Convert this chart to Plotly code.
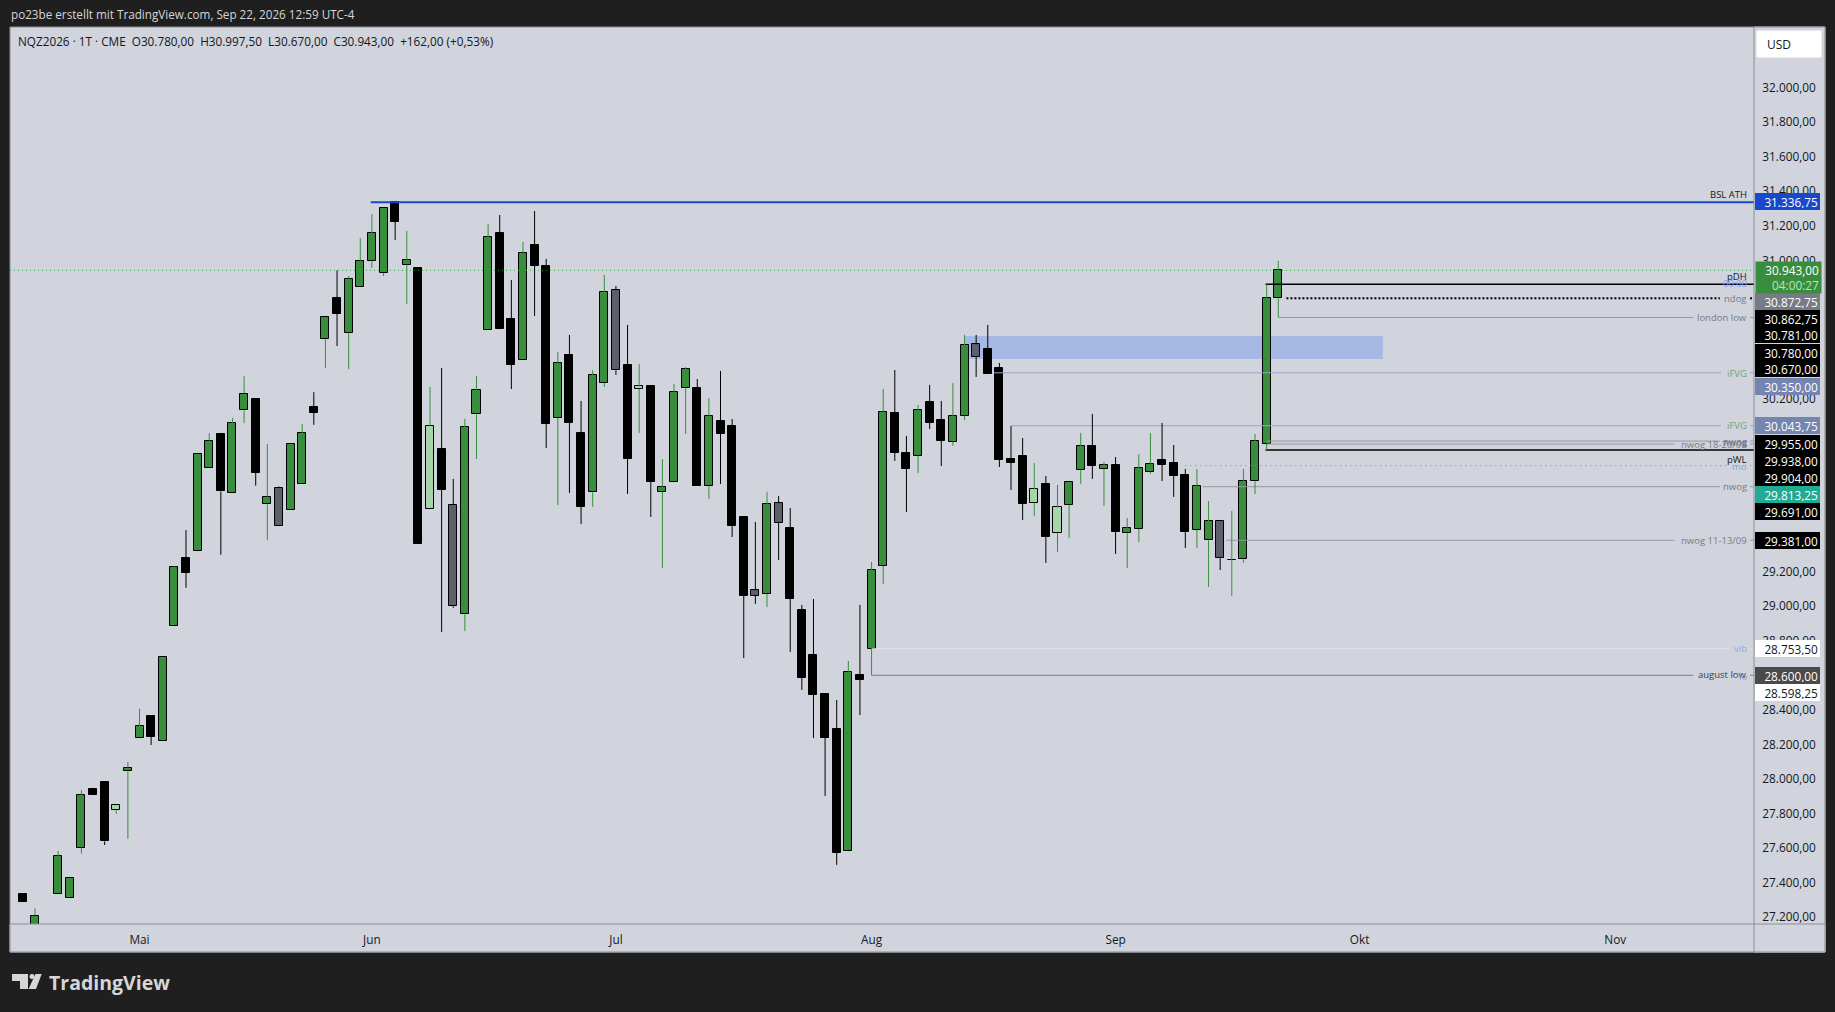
# -*- coding: utf-8 -*-
import plotly.graph_objects as go

# daily bars, the session at index 2 has no bar on the chart
bar_index = [0, 1] + list(range(3, 109))

opens = [27334, 27150, 27337, 27314, 27603, 27941, 27980, 27822, 28044, 28235,
         28363, 28222, 28886, 29276, 29317, 29802, 29996, 29656, 30132, 30198,
         29589, 29682, 29559, 29704, 30150, 30544, 30781, 30579, 30845, 30995,
         30926, 31337, 30976, 30955, 29560, 29908, 29584, 28953, 30110, 30596,
         31157, 30660, 30422, 31088, 30966, 30090, 30451, 30000, 29659, 30290,
         30827, 30394, 30258, 30272, 29662, 29717, 30260, 30260, 29694, 30070,
         30041, 29514, 29092, 29069, 29595, 29451, 28978, 28716, 28492, 28288,
         27585, 28602, 28754, 29234, 30116, 29885, 29871, 30180, 30075, 29952,
         30102, 30515, 30486, 30376, 29851, 29867, 29599, 29705, 29425, 29587,
         29790, 29925, 29795, 29815, 29422, 29448, 29778, 29846, 29827, 29757,
         29442, 29381, 29491, 29265, 29271, 29722, 29938, 30780]
highs = [27334, 27251, 27583, 27430, 27935, 27941, 27980, 27847, 28099, 28406,
         28363, 28703, 29231, 29440, 29883, 30001, 29996, 30089, 30331, 30198,
         29938, 29692, 29941, 30054, 30238, 30671, 30943, 30910, 31130, 31269,
         31302, 31336.75, 31171, 30955, 30268, 30378, 29736, 30083, 30332, 31211,
         31263, 30887, 31107, 31286, 31009, 30470, 30569, 30187, 30365, 30916,
         30852, 30627, 30401, 30272, 29851, 30285, 30384, 30314, 30204, 30361,
         30083, 29514, 29487, 29661, 29637, 29568, 29007, 29041, 28492, 28457,
         28683, 29007, 29256, 30256, 30366, 29985, 30164, 30280, 30187, 30291,
         30569, 30569, 30627, 30407, 30042, 29973, 29828, 29753, 29701, 29717,
         30002, 30112, 29834, 29863, 29510, 29880, 30002, 30060, 29932, 29794,
         29794, 29608, 29499, 29551, 29794, 29996, 30862.75, 30997.5]
lows = [27291, 27150, 27337, 27314, 27568, 27910, 27618, 27799, 27654, 28235,
        28197, 28222, 28886, 29106, 29317, 29802, 29297, 29656, 30059, 29697,
        29382, 29466, 29559, 29704, 30049, 30379, 30505, 30372, 30845, 30956,
        30910, 31118, 30748, 29362, 29560, 28851, 28990, 28856, 29851, 30596,
        30605, 30256, 30422, 30679, 29915, 29585, 29655, 29475, 29574, 30268,
        30338, 29649, 30002, 29516, 29221, 29717, 29996, 29697, 29620, 29707,
        29400, 28700, 29013, 28995, 29267, 28735, 28515, 28237, 27902, 27503,
        27585, 28370, 28600, 29128, 29840, 29545, 29770, 30025, 29811, 29927,
        30077, 30326, 30345, 29805, 29672, 29499, 29522, 29250, 29314, 29394,
        29707, 29736, 29580, 29302, 29221, 29371, 29765, 29724, 29632, 29337,
        29337, 29111, 29209, 29059, 29250, 29649, 29904, 30670]
closes = [27291, 27210, 27553, 27430, 27905, 27910, 27639, 27847, 28066, 28305,
          28243, 28703, 29224, 29194, 29883, 29958, 29664, 30057, 30230, 29772,
          29634, 29466, 29941, 29999, 30120, 30671, 30692, 30895, 30995, 31157,
          31302, 31224, 31001, 29362, 30041, 29674, 28999, 30035, 30249, 31134,
          30605, 30397, 31042, 30970, 30056, 30405, 30062, 29576, 30336, 30816,
          30365, 29853, 30272, 29720, 29688, 30237, 30370, 29697, 30098, 29998,
          29466, 29061, 29061, 29589, 29480, 29043, 28586, 28488, 28239, 27574,
          28618, 28575, 29208, 30122, 29888, 29795, 30133, 30062, 29957, 30098,
          30509, 30443, 30345, 29847, 29830, 29593, 29676, 29402, 29572, 29717,
          29925, 29813, 29815, 29431, 29451, 29798, 29821, 29819, 29755, 29431,
          29694, 29491, 29277, 29265, 29722, 29954, 30781, 30943]

# bars the chart paints in the other two colours
gray_bars = [22, 37, 51, 63, 65, 82, 103]
light_bars = [8, 35, 53, 87, 89]

month_ticks = [10, 30, 51, 73, 94, 115, 137]
month_labels = ["Mai", "Jun", "Jul", "Aug", "Sep", "Okt", "Nov"]

# scale ticks, the ones listed as covered sit fully behind the price boxes
covered_ticks = [30800, 30600, 30400, 30000, 29800, 29600, 28600]
price_ticks = [p for p in range(27200, 32001, 200) if p not in covered_ticks]
price_tick_labels = [f"{p:,}".replace(",", ".") + ",00" for p in price_ticks]

# drawn levels
level_names = ["BSL ATH", "pDH", "ndog", "london low", "iFVG", "iFVG", "nwog", "nwog 18-20/09",
               "pWL", "mo", "nwog", "nwog 11-13/09", "vib", "august low"]
level_prices = [31336.75, 30862.75, 30781, 30670, 30350, 30043.75, 29955, 29938,
                29904, 29813.25, 29691, 29381, 28753.5, 28600]
level_starts = [29.9, 106.9, 108.7, 108, 83.5, 85, 107, 107, 106.9, 100, 101.5, 103.5, 73, 73]
level_ends = [148.94, 148.94, 146, 143.7, 146.1, 146.1, 146, 142.1, 148.94, 146.9, 146, 142.1, 146.9, 143.7]
level_colors = ["#1848cc", "#000000", "#000000", "#9598a1", "#9ba5c6", "#9ba5c6", "#9598a1", "#9598a1",
                "#000000", "#4f9c93", "#9598a1", "#9598a1", "#e2e4ea", "#787b86"]
level_widths = [2, 1.5, 2, 1, 1, 1, 1, 1, 1.5, 1, 1, 1, 1, 1]
level_dash = ["solid", "solid", "2px,2px", "solid", "solid", "solid", "solid", "solid",
              "solid", "1px,4px", "solid", "solid", "solid", "solid"]
level_text_colors = ["#131722", "#131722", "#787b86", "#787b86", "#6fa283", "#6fa283", "#787b86", "#787b86",
                     "#131722", "#7f9df0", "#787b86", "#787b86", "#8fa8ee", "#3a3d45"]

# fvg box
box_bars = (81, 117)
box_prices = (30430, 30563)

# price scale labels: value, colour, text colour, stacked position on the scale
scale_values = ["31.336,75", "30.872,75", "30.862,75", "30.781,00", "30.780,00", "30.670,00", "30.350,00",
                "30.043,75", "29.955,00", "29.938,00", "29.904,00", "29.813,25", "29.691,00", "29.381,00",
                "28.753,50", "28.600,00", "28.598,25"]
scale_colors = ["#1848cc", "#787b86", "#000000", "#000000", "#000000", "#000000", "#7385b0",
                "#7385b0", "#000000", "#000000", "#000000", "#22ab94", "#000000", "#000000",
                "#ffffff", "#4a4a4a", "#ffffff"]
scale_text = ["#ffffff"] * 14 + ["#131722", "#ffffff", "#131722"]
scale_y = [202, 301, 318, 335, 352, 368.5, 386, 426, 443, 460, 477, 494, 511, 540, 648, 675, 692]

# page geometry in pixels
W, H = 1835, 1012
L, R, T, B = 10, 1754, 27, 924
PANEL_R, PANEL_B = 1825, 952
BG = "#d1d4dc"
DARK = "#1f1f1f"
FRAME = "#8b8e96"
FONT = "Open Sans"


def px(x):
    return (x - L) / (R - L)


def py(y):
    return 1 - (y - T) / (B - T)


def pane_rect(x0, y0, x1, y1, color, line=None):
    return dict(type="rect", xref="paper", yref="paper", layer="below",
                x0=px(x0), x1=px(x1), y0=py(y0), y1=py(y1), fillcolor=color,
                line=dict(color=line or color, width=1))


def page_path(points, color):
    # closed polygon given in page pixels
    d = "M " + " L ".join(f"{px(a):.5f},{py(b):.5f}" for a, b in points) + " Z"
    return dict(type="path", xref="paper", yref="paper", path=d, fillcolor=color, line=dict(width=0))


def text(x, y, s, size=11, color="#131722", anchor="left", family=FONT):
    return dict(xref="paper", yref="paper", x=px(x), y=py(y), text=s, showarrow=False,
                xanchor=anchor, yanchor="middle", align=anchor,
                font=dict(family=family, size=size, color=color))


GREEN = "#388e3c"
body_colors = []
for i, o, c in zip(bar_index, opens, closes):
    if i in gray_bars:
        body_colors.append("#5d606b")
    elif i in light_bars:
        body_colors.append("#a5d6a7")
    elif c >= o:
        body_colors.append(GREEN)
    else:
        body_colors.append("#000000")

# wicks are split so they never cross a body
wx_g, wy_g, wx_b, wy_b = [], [], [], []
for i, o, h, l, c in zip(bar_index, opens, highs, lows, closes):
    xs = [i, i, None, i, i, None]
    ys = [h, max(o, c), None, min(o, c), l, None]
    if c >= o:
        wx_g += xs
        wy_g += ys
    else:
        wx_b += xs
        wy_b += ys

fig = go.Figure()

# last price line
fig.add_trace(go.Scatter(x=[-1.145, 148.94], y=[closes[-1], closes[-1]], mode="lines",
                         line=dict(color="#2e9e3a", width=1, dash="1px,3px"), hoverinfo="skip"))

for name, p, a, b, col, wid, dash in zip(level_names, level_prices, level_starts, level_ends,
                                         level_colors, level_widths, level_dash):
    xs = [a, b]
    ys = [p, p]
    if b < 148.9:
        xs += [None, 148.6, 148.94]
        ys += [None, p, p]
    fig.add_trace(go.Scatter(x=xs, y=ys, mode="lines", name=name, hoverinfo="skip",
                             line=dict(color=col, width=wid, dash=dash)))

fig.add_trace(go.Bar(x=bar_index,
                     y=[abs(c - o) for o, c in zip(opens, closes)],
                     base=[min(o, c) for o, c in zip(opens, closes)],
                     width=0.69,
                     marker=dict(color=body_colors, line=dict(color="#000000", width=1))))
fig.add_trace(go.Scatter(x=wx_g, y=wy_g, mode="lines", line=dict(color=GREEN, width=1), hoverinfo="skip"))
fig.add_trace(go.Scatter(x=wx_b, y=wy_b, mode="lines", line=dict(color="#000000", width=1), hoverinfo="skip"))

shapes = [
    pane_rect(R, T, PANEL_R, PANEL_B, BG),
    pane_rect(L, B, PANEL_R, PANEL_B, BG),
    dict(type="rect", xref="x", yref="y", layer="below", x0=box_bars[0], x1=box_bars[1],
         y0=box_prices[0], y1=box_prices[1], fillcolor="#a6b9e4", line=dict(width=0)),
    dict(type="rect", xref="paper", yref="paper", x0=px(L), x1=px(PANEL_R), y0=py(T), y1=py(PANEL_B),
         line=dict(color=FRAME, width=1)),
    dict(type="line", xref="paper", yref="paper", x0=px(R), x1=px(R), y0=py(T), y1=py(PANEL_B),
         line=dict(color=FRAME, width=1)),
    dict(type="line", xref="paper", yref="paper", x0=px(L), x1=px(PANEL_R), y0=py(B), y1=py(B),
         line=dict(color=FRAME, width=1)),
    # USD button
    pane_rect(1757, 31, 1821, 57, "#ffffff"),
    # logo mark
    page_path([(12, 974), (28, 974), (28, 989), (20, 989), (20, 981), (12, 981)], "#d6d6d6"),
    page_path([(35.5, 974), (41.7, 974), (36, 989), (28.5, 989)], "#d6d6d6"),
    dict(type="circle", xref="paper", yref="paper", fillcolor="#d6d6d6", line=dict(width=0),
         x0=px(29.5), x1=px(34.5), y0=py(974), y1=py(979)),
]

annotations = [
    text(9, 14.5, "po23be erstellt mit TradingView.com, Sep 22, 2026 12:59 UTC-4", size=11.7, color="#d6d6d6"),
    text(16, 41.5, "NQZ2026 · 1T · CME&nbsp;&nbsp;O30.780,00&nbsp;&nbsp;H30.997,50&nbsp;&nbsp;L30.670,00"
                   "&nbsp;&nbsp;C30.943,00&nbsp;&nbsp;+162,00 (+0,53%)", size=11.75),
    text(1765, 44.5, "USD", size=12),
    text(47, 982, "<b>TradingView</b>", size=19.5, color="#d6d6d6"),
]

# level captions sit at the end of each line
caption_y = [194.5, 276.5, 298.5, 317.5, 373, 426, 441.5, 444, 459, 466, 486, 540, 648, 674.5]
for name, y, col in zip(level_names, caption_y, level_text_colors):
    annotations.append(text(1748.5, y, name, size=9.5, color=col, anchor="right"))
annotations.append(text(1748.5, 283, "00:00", size=9.5, color="#7f9df0", anchor="right"))
annotations.append(text(1748.5, 442, "nwog", size=9.5, color="#787b86", anchor="right"))
annotations.append(text(1748.5, 676, "lo", size=9.5, color="#7f9df0", anchor="right"))

# price scale boxes
for val, col, tcol, y in zip(scale_values, scale_colors, scale_text, scale_y):
    annotations.append(dict(xref="paper", yref="paper", x=px(1754.5), y=py(y), text=val, showarrow=False,
                            xanchor="left", yanchor="middle", width=61, height=13, align="right",
                            bgcolor=col, borderpad=2, borderwidth=0,
                            font=dict(family=FONT, size=11.8, color=tcol)))
# current price with countdown
annotations.append(dict(xref="paper", yref="paper", x=px(1754.5), y=py(277.5), showarrow=False,
                        text="30.943,00<br><span style='color:#bfe3c1'>04:00:27</span>",
                        xanchor="left", yanchor="middle", width=61, height=27, align="right",
                        bgcolor=GREEN, borderpad=2, font=dict(family=FONT, size=11.8, color="#ffffff")))

fig.update_layout(width=W, height=H, autosize=False, showlegend=False, hovermode=False,
                  paper_bgcolor=DARK, plot_bgcolor=BG, bargap=0, barmode="overlay",
                  margin=dict(l=L, r=W - R, t=T, b=H - B, pad=0, autoexpand=False),
                  font=dict(family=FONT, color="#131722"),
                  shapes=shapes, annotations=annotations)
fig.update_xaxes(range=[-1.145, 148.94], tickvals=month_ticks, ticktext=month_labels, showgrid=False,
                 zeroline=False, ticks="outside", ticklen=5, tickcolor="rgba(0,0,0,0)",
                 tickfont=dict(family=FONT, size=11.8, color="#131722"))
fig.update_yaxes(range=[27161, 32350.7], side="right", tickvals=price_ticks, ticktext=price_tick_labels,
                 showgrid=False, zeroline=False, ticks="outside", ticklen=5, tickcolor="rgba(0,0,0,0)",
                 tickfont=dict(family=FONT, size=11.8, color="#131722"))

fig.write_html("out.html", config=dict(displayModeBar=False),
               post_script="document.body.style.margin='0';document.body.style.background='#1f1f1f';")
